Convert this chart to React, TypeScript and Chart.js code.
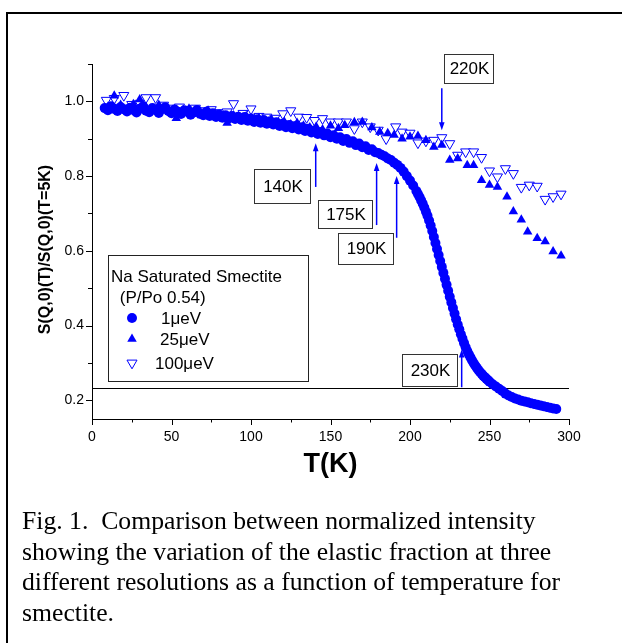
import React, { useEffect, useRef } from 'react';
import { Chart, registerables } from 'chart.js';

Chart.register(...registerables);

// ---- Data: 1 μeV (filled circles) ----
const circleT = [
  8, 10, 12, 14, 16, 18, 20, 22, 24, 26, 28, 30, 32, 34, 36, 38, 40, 42, 44, 46, 48, 50,
  52, 54, 56, 58, 60, 62, 64, 66, 68, 70, 72, 74, 76, 78, 80, 82, 84, 86, 88, 90, 92, 94,
  96, 98, 100, 102, 104, 106, 108, 110, 112, 114, 116, 118, 120, 122, 124, 126, 128, 130,
  132, 134, 136, 138, 140, 142, 144, 146, 148, 150, 152, 154, 156, 158, 160, 162, 164, 166,
  168, 170, 172, 174, 176, 178, 180, 182, 184, 186, 188, 190, 192, 194, 196, 198, 200, 202,
  204, 205, 206, 207, 208, 209, 210, 211, 212, 213, 214, 215, 216, 217, 218, 219, 220, 221,
  222, 223, 224, 225, 226, 227, 228, 229, 230, 231, 232, 233, 234, 235, 236, 237, 238, 239,
  240, 241, 242, 243, 244, 245, 246, 247, 248, 249, 250, 252, 254, 256, 258, 260, 262, 264,
  266, 268, 270, 272, 274, 276, 278, 280, 282, 284, 286, 288, 290, 292,
];
const circleS = [
  0.982, 0.976, 0.987, 0.980, 0.974, 0.985, 0.979, 0.973, 0.983, 0.977, 0.970, 0.980, 0.986,
  0.975, 0.971, 0.982, 0.977, 0.969, 0.979, 0.984, 0.974, 0.968, 0.978, 0.972, 0.966, 0.976,
  0.972, 0.964, 0.970, 0.977, 0.967, 0.963, 0.972, 0.961, 0.968, 0.958, 0.965, 0.956, 0.963,
  0.954, 0.961, 0.953, 0.959, 0.950, 0.958, 0.948, 0.954, 0.945, 0.952, 0.943, 0.950, 0.940,
  0.947, 0.938, 0.944, 0.934, 0.940, 0.931, 0.937, 0.928, 0.934, 0.925, 0.931, 0.921, 0.927,
  0.917, 0.922, 0.913, 0.918, 0.909, 0.914, 0.904, 0.909, 0.900, 0.904, 0.894, 0.899, 0.889,
  0.893, 0.883, 0.887, 0.877, 0.880, 0.870, 0.872, 0.864, 0.862, 0.857, 0.853, 0.847, 0.843,
  0.836, 0.830, 0.822, 0.812, 0.800, 0.788, 0.775, 0.760, 0.752, 0.744, 0.735, 0.726, 0.716,
  0.705, 0.694, 0.681, 0.668, 0.653, 0.637, 0.621, 0.605, 0.589, 0.573, 0.557, 0.541, 0.525,
  0.509, 0.493, 0.477, 0.462, 0.447, 0.432, 0.417, 0.403, 0.390, 0.377, 0.365, 0.353, 0.342,
  0.332, 0.323, 0.315, 0.307, 0.300, 0.293, 0.287, 0.281, 0.276, 0.271, 0.266, 0.262, 0.258,
  0.254, 0.250, 0.243, 0.237, 0.231, 0.225, 0.218, 0.213, 0.209, 0.205, 0.202, 0.199, 0.197,
  0.195, 0.192, 0.190, 0.188, 0.186, 0.184, 0.182, 0.180, 0.178, 0.177,
];

// ---- Data: 25 μeV (filled up-triangles) ----
const triT = [
  10, 14, 18, 22, 26, 30, 34, 38, 42, 46, 50, 53, 57, 61, 65, 69, 73, 77, 81, 85, 89, 93,
  97, 101, 105, 109, 113, 117, 121, 125, 129, 133, 137, 141, 145, 150, 155, 159, 165, 170,
  176, 181, 186, 190, 195, 200, 205, 210, 215, 220, 225, 230, 236, 240, 245, 250, 255, 261,
  265, 270, 274, 280, 285, 290, 295,
];
const triS = [
  0.985, 1.015, 0.990, 0.978, 0.992, 1.005, 0.985, 0.975, 0.990, 0.978, 0.968, 0.955, 0.975,
  0.980, 0.970, 0.962, 0.975, 0.965, 0.958, 0.942, 0.962, 0.955, 0.960, 0.950, 0.955, 0.945,
  0.950, 0.940, 0.945, 0.938, 0.942, 0.935, 0.930, 0.932, 0.925, 0.935, 0.928, 0.936, 0.944,
  0.945, 0.930, 0.918, 0.915, 0.910, 0.900, 0.905, 0.907, 0.896, 0.878, 0.883, 0.843, 0.847,
  0.829, 0.829, 0.789, 0.776, 0.771, 0.745, 0.705, 0.683, 0.651, 0.634, 0.625, 0.598, 0.587,
];

// ---- Data: 100 μeV (open down-triangles) ----
const invT = [
  9, 14, 20, 25, 30, 34, 40, 45, 50, 55, 60, 65, 70, 75, 80, 85, 89, 95, 100, 105, 110, 115,
  120, 125, 130, 135, 140, 145, 150, 155, 160, 165, 170, 175, 180, 185, 191, 195, 200, 205,
  210, 215, 220, 225, 230, 235, 240, 245, 250, 255, 260, 265, 270, 275, 280, 285, 290, 295,
];
const invS = [
  1.003, 1.008, 1.016, 0.992, 0.995, 1.010, 1.010, 0.990, 0.982, 0.985, 0.978, 0.982, 0.975,
  0.978, 0.970, 0.972, 0.994, 0.968, 0.980, 0.960, 0.958, 0.955, 0.967, 0.975, 0.958, 0.957,
  0.949, 0.954, 0.945, 0.945, 0.945, 0.927, 0.945, 0.932, 0.923, 0.900, 0.932, 0.918, 0.915,
  0.889, 0.894, 0.896, 0.903, 0.887, 0.856, 0.865, 0.865, 0.850, 0.814, 0.798, 0.820, 0.807,
  0.770, 0.776, 0.773, 0.738, 0.745, 0.752,
];

// ---- Axis ticks ----
const xTickValues = [0, 50, 100, 150, 200, 250, 300];
const xMinorValues = [25, 75, 125, 175, 225, 275];
const yTickValues = [0.2, 0.4, 0.6, 0.8, 1.0];
const yMinorValues = [0.3, 0.5, 0.7, 0.9, 1.1];
const baselineLevel = 0.232;

// ---- Legend texts ----
const legendTitle = ['Na Saturated Smectite', ' (P/Po 0.54)'];
const seriesNames = ['1\u03BCeV', '25\u03BCeV', '100\u03BCeV'];

// ---- Annotations (temperature markers) ----
const annLabels = ['140K', '175K', '190K', '220K', '230K'];
const annArrowT = [140.7, 179, 191.6, 220, 232.5];
const annArrowFrom = [0.771, 0.669, 0.635, 1.035, 0.235];
const annArrowTo = [0.888, 0.835, 0.8, 0.923, 0.336];
const annBoxT1 = [101.7, 141.9, 154.5, 221.2, 194.8];
const annBoxT2 = [136.9, 175.9, 189.1, 252.0, 229.4];
const annBoxS1 = [0.819, 0.736, 0.648, 1.128, 0.323];
const annBoxS2 = [0.728, 0.661, 0.565, 1.048, 0.237];

const BLUE = '#0000ff';
const SANS = '"Liberation Sans", Arial, sans-serif';

const toXY = (xs: number[], ys: number[]) => xs.map((x, i) => ({ x, y: ys[i] }));

function drawMarker(ctx: CanvasRenderingContext2D, kind: number, x: number, y: number) {
  ctx.save();
  ctx.fillStyle = BLUE;
  ctx.strokeStyle = BLUE;
  ctx.lineWidth = 1;
  ctx.beginPath();
  if (kind === 0) {
    ctx.arc(x, y, 5, 0, Math.PI * 2);
    ctx.fill();
  } else if (kind === 1) {
    const r = 5.5;
    ctx.moveTo(x, y - r);
    ctx.lineTo(x + r * 0.866, y + r * 0.5);
    ctx.lineTo(x - r * 0.866, y + r * 0.5);
    ctx.closePath();
    ctx.fill();
  } else {
    const r = 5.8;
    ctx.moveTo(x, y + r);
    ctx.lineTo(x + r * 0.866, y - r * 0.5);
    ctx.lineTo(x - r * 0.866, y - r * 0.5);
    ctx.closePath();
    ctx.fillStyle = '#fff';
    ctx.fill();
    ctx.stroke();
  }
  ctx.restore();
}

const decorPlugin = {
  id: 'decor',
  beforeDatasetsDraw(chart: any) {
    const { ctx, chartArea, scales } = chart;
    const y = scales.y.getPixelForValue(baselineLevel);
    ctx.save();
    ctx.strokeStyle = '#000';
    ctx.lineWidth = 1;
    ctx.beginPath();
    ctx.moveTo(chartArea.left, Math.round(y) + 0.5);
    ctx.lineTo(chartArea.right, Math.round(y) + 0.5);
    ctx.stroke();
    ctx.restore();
  },
  afterDatasetsDraw(chart: any) {
    const { ctx, chartArea, scales } = chart;
    const xs = scales.x;
    const ys = scales.y;
    const L = chartArea.left;
    const B = chartArea.bottom;
    ctx.save();
    // axes lines
    ctx.strokeStyle = '#000';
    ctx.lineWidth = 1;
    ctx.beginPath();
    ctx.moveTo(L + 0.5, chartArea.top);
    ctx.lineTo(L + 0.5, B + 0.5);
    ctx.lineTo(chartArea.right + 0.5, B + 0.5);
    ctx.stroke();
    // ticks
    ctx.beginPath();
    xTickValues.forEach((v) => {
      const px = Math.round(xs.getPixelForValue(v)) + 0.5;
      ctx.moveTo(px, B);
      ctx.lineTo(px, B + 6);
    });
    xMinorValues.forEach((v) => {
      const px = Math.round(xs.getPixelForValue(v)) + 0.5;
      ctx.moveTo(px, B);
      ctx.lineTo(px, B + 3.5);
    });
    yTickValues.forEach((v) => {
      const py = Math.round(ys.getPixelForValue(v)) + 0.5;
      ctx.moveTo(L, py);
      ctx.lineTo(L - 6, py);
    });
    yMinorValues.forEach((v) => {
      const py = Math.round(ys.getPixelForValue(v)) + 0.5;
      ctx.moveTo(L, py);
      ctx.lineTo(L - 4, py);
    });
    ctx.stroke();

    // axis titles
    ctx.fillStyle = '#000';
    ctx.font = `bold 27px ${SANS}`;
    ctx.textAlign = 'center';
    ctx.textBaseline = 'alphabetic';
    ctx.fillText('T(K)', (chartArea.left + chartArea.right) / 2, B + 53);
    ctx.save();
    ctx.translate(L - 46, (chartArea.top + B) / 2 + 8);
    ctx.rotate(-Math.PI / 2);
    ctx.font = `bold 16px ${SANS}`;
    ctx.textBaseline = 'middle';
    ctx.fillText('S(Q,0)(T)/S(Q,0)(T=5K)', 0, 0);
    ctx.restore();

    // legend box
    const lx = L + 16;
    const ly = chartArea.top + 191;
    ctx.fillStyle = '#fff';
    ctx.fillRect(lx, ly, 200, 126);
    ctx.strokeStyle = '#222';
    ctx.lineWidth = 1;
    ctx.strokeRect(lx + 0.5, ly + 0.5, 200, 126);
    ctx.fillStyle = '#000';
    ctx.font = `17px ${SANS}`;
    ctx.textAlign = 'left';
    ctx.textBaseline = 'alphabetic';
    ctx.fillText(legendTitle[0], lx + 3, ly + 27);
    ctx.fillText(legendTitle[1], lx + 7, ly + 48);
    const rowY = [ly + 63, ly + 84, ly + 108];
    const textX = [lx + 53, lx + 52, lx + 47];
    seriesNames.forEach((name, i) => {
      drawMarker(ctx, i, lx + 24, rowY[i]);
      ctx.fillStyle = '#000';
      ctx.fillText(name, textX[i], rowY[i] + 6);
    });

    // annotations
    annLabels.forEach((lab, i) => {
      const bx1 = Math.round(xs.getPixelForValue(annBoxT1[i]));
      const bx2 = Math.round(xs.getPixelForValue(annBoxT2[i]));
      const by1 = Math.round(ys.getPixelForValue(annBoxS1[i]));
      const by2 = Math.round(ys.getPixelForValue(annBoxS2[i]));
      ctx.fillStyle = '#fff';
      ctx.fillRect(bx1, by1, bx2 - bx1, by2 - by1);
      ctx.strokeStyle = '#333';
      ctx.lineWidth = 1;
      ctx.strokeRect(bx1 + 0.5, by1 + 0.5, bx2 - bx1, by2 - by1);
      ctx.fillStyle = '#000';
      ctx.font = `17px ${SANS}`;
      ctx.textAlign = 'center';
      ctx.textBaseline = 'middle';
      ctx.fillText(lab, (bx1 + bx2) / 2 + 1, (by1 + by2) / 2 + 1);

      const ax = xs.getPixelForValue(annArrowT[i]);
      const ay1 = ys.getPixelForValue(annArrowFrom[i]);
      const ay2 = ys.getPixelForValue(annArrowTo[i]);
      const dir = ay2 < ay1 ? -1 : 1;
      ctx.strokeStyle = BLUE;
      ctx.fillStyle = BLUE;
      ctx.lineWidth = 1.5;
      ctx.beginPath();
      ctx.moveTo(ax, ay1);
      ctx.lineTo(ax, ay2 - dir * 6);
      ctx.stroke();
      ctx.beginPath();
      ctx.moveTo(ax, ay2);
      ctx.lineTo(ax - 2.8, ay2 - dir * 8);
      ctx.lineTo(ax + 2.8, ay2 - dir * 8);
      ctx.closePath();
      ctx.fill();
    });
    ctx.restore();
  },
};

export default function App() {
  const ref = useRef<HTMLCanvasElement>(null);
  useEffect(() => {
    document.body.style.margin = '0';
    const canvas = ref.current;
    if (!canvas) return;
    const chart = new Chart(canvas, {
      type: 'scatter',
      data: {
        datasets: [
          {
            label: seriesNames[0],
            data: toXY(circleT, circleS),
            pointStyle: 'circle',
            pointRadius: 5,
            pointBorderWidth: 0,
            backgroundColor: BLUE,
            borderColor: BLUE,
          },
          {
            label: seriesNames[1],
            data: toXY(triT, triS),
            pointStyle: 'triangle',
            pointRadius: 5.5,
            pointBorderWidth: 0,
            backgroundColor: BLUE,
            borderColor: BLUE,
          },
          {
            label: seriesNames[2],
            data: toXY(invT, invS),
            pointStyle: 'triangle',
            pointRotation: 180,
            pointRadius: 5.8,
            pointBorderWidth: 1,
            backgroundColor: '#ffffff',
            borderColor: BLUE,
          },
        ],
      } as any,
      options: {
        animation: false,
        responsive: false,
        events: [],
        layout: { padding: { top: 64, right: 53, left: 0, bottom: 0 } },
        plugins: { legend: { display: false }, tooltip: { enabled: false } },
        scales: {
          x: {
            type: 'linear',
            min: 0,
            max: 300,
            afterBuildTicks: (s: any) => {
              s.ticks = xTickValues.map((v) => ({ value: v }));
            },
            ticks: {
              font: { family: SANS, size: 14 },
              color: '#000',
              padding: 4,
              maxRotation: 0,
            },
            grid: { display: false, drawTicks: true, tickLength: 6 },
            border: { display: false },
            afterFit: (s: any) => {
              s.height = 61;
            },
          },
          y: {
            type: 'linear',
            min: 0.15,
            max: 1.1,
            afterBuildTicks: (s: any) => {
              s.ticks = yTickValues.map((v) => ({ value: v }));
            },
            ticks: {
              font: { family: SANS, size: 14 },
              color: '#000',
              padding: 3,
              callback: (v: any) => Number(v).toFixed(1),
            },
            grid: { display: false, drawTicks: true, tickLength: 5 },
            border: { display: false },
            afterFit: (s: any) => {
              s.width = 92;
            },
          },
        },
      } as any,
      plugins: [decorPlugin],
    });
    return () => chart.destroy();
  }, []);

  return (
    <div style={{ position: 'relative', width: 622, height: 643, overflow: 'hidden', background: '#fff' }}>
      <canvas ref={ref} width={622} height={480} style={{ position: 'absolute', left: 0, top: 0 }} />
      <div
        style={{
          position: 'absolute',
          left: 6,
          top: 12,
          width: 700,
          height: 700,
          border: '2px solid #000',
          boxSizing: 'border-box',
          pointerEvents: 'none',
        }}
      />
      <div
        style={{
          position: 'absolute',
          left: 22,
          top: 506,
          width: 600,
          fontFamily: '"Liberation Serif", "Times New Roman", serif',
          fontSize: 25.7,
          lineHeight: '30.5px',
          color: '#000',
          whiteSpace: 'nowrap',
        }}
      >
        Fig. 1.&nbsp; Comparison between normalized intensity
        <br />
        showing the variation of the elastic fraction at three
        <br />
        different resolutions as a function of temperature for
        <br />
        smectite.
      </div>
    </div>
  );
}
